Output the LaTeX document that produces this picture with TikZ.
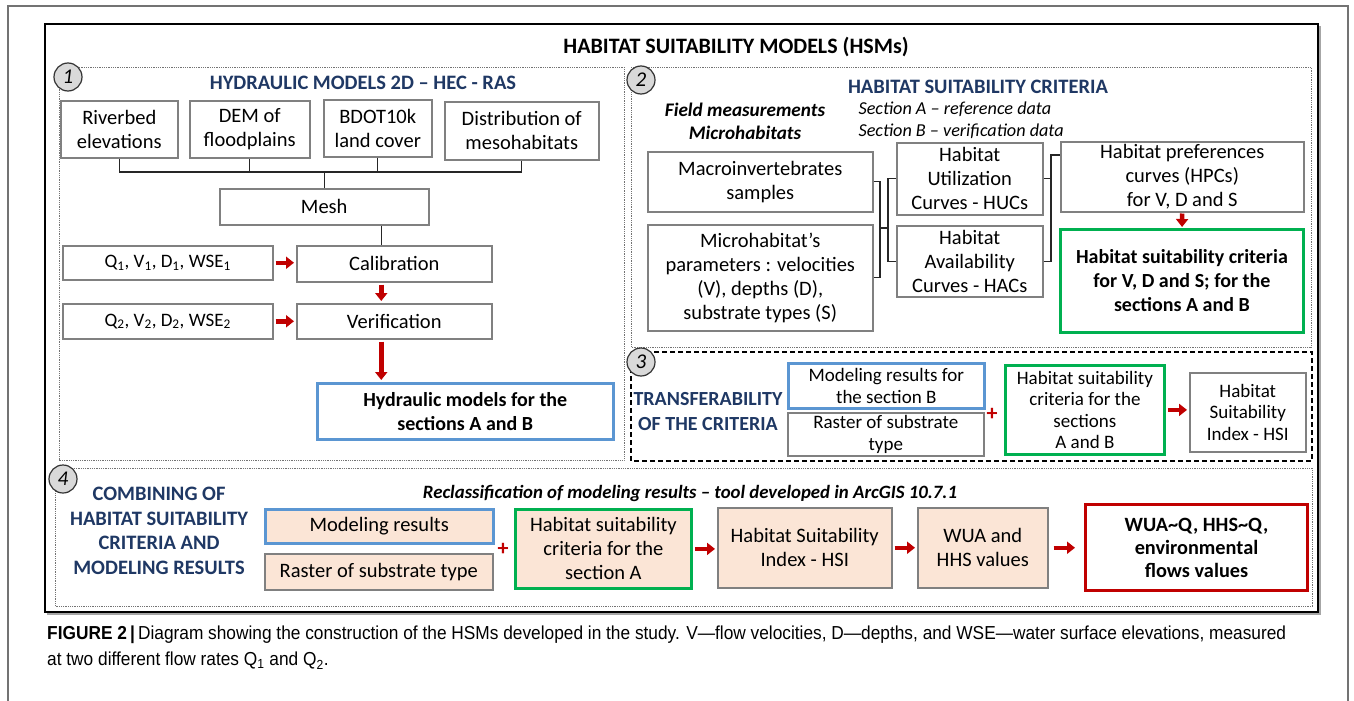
\documentclass[tikz,border=0pt]{standalone}
\usepackage{fontspec}
\setmainfont{Carlito}
\newfontfamily\capfont[FakeStretch=0.92]{Liberation Sans}
\usepackage{tikz}
\usetikzlibrary{
    positioning,
    arrows.meta
}
\definecolor{hsmNavy}{RGB}{31, 56, 100}
\definecolor{hsmRed}{RGB}{192, 0, 0}
\definecolor{hsmBlue}{RGB}{91, 150, 210}
\definecolor{hsmGreen}{RGB}{0, 176, 80}
\definecolor{hsmBeige}{RGB}{251, 229, 214}
\definecolor{boxGray}{RGB}{128, 128, 128}

\tikzset{
    box/.style={draw=boxGray, line width=1.5pt, fill=white, align=center,
        inner sep=1pt, anchor=north west, font=\fontsize{20.5}{24}\selectfont},
    smallbox/.style={box, font=\fontsize{19}{21.5}\selectfont},
    beigebox/.style={box, fill=hsmBeige},
    bluebox/.style={draw=hsmBlue, line width=2.5pt},
    greenbox/.style={draw=hsmGreen, line width=2.8pt},
    redbox/.style={draw=hsmRed, line width=3pt},
    link/.style={draw=black!85, line width=1.2pt},
    redarr/.style={draw=hsmRed, line width=4.5pt,
        -{Triangle[length=8pt, width=12pt]}, shorten <=2pt, shorten >=2pt},
    numc/.style={circle, draw=black!80, line width=1.2pt, fill=black!15,
        minimum size=28pt, inner sep=0pt, font=\fontsize{21}{21}\selectfont\itshape},
    heading/.style={text=hsmNavy, font=\fontsize{20.5}{24.5}\selectfont\bfseries, align=center},
    plusmark/.style={text=hsmRed, font=\fontsize{22}{22}\selectfont\bfseries},
    dotpanel/.style={draw=black!55, line width=0.8pt, densely dotted}
}

\begin{document}
\begin{tikzpicture}[x=1pt, y=-1pt]
    \useasboundingbox (0,0) rectangle (1354,701);
    % frames
    \draw[black!55, line width=1.3pt] (8,701) -- (8,6) -- (1348,6) -- (1348,701);
    \draw[black!35, line width=1.5pt] (47,614) -- (1320,614) -- (1320,26);
    \draw[line width=2.5pt] (45,24) rectangle (1318,612);
    \node[font=\fontsize{22}{24}\selectfont\bfseries] (title) at (736,47)
        {HABITAT SUITABILITY MODELS (HSMs)};

    % panels
    \draw[dotpanel] (59,67) rectangle (624,460);
    \draw[dotpanel] (631,67) rectangle (1311,347);
    \draw[dotpanel] (55,468) rectangle (1312,606);
    \draw[line width=1.3pt, dash pattern=on 5pt off 3pt] (631,352) rectangle (1312,461);

    \node[numc] (n1) at (68,77) {1};
    \node[numc] (n2) at (641,80) {2};
    \node[numc] (n3) at (641,362) {3};
    \node[numc] (n4) at (63,479) {4};

    % 1 - hydraulic models
    \node[heading] (h1) at (363,83) {HYDRAULIC MODELS 2D -- HEC - RAS};
    \node[box, minimum width=117pt, minimum height=57pt] (riverbed) at (60,100) {Riverbed\\elevations};
    \node[box, minimum width=120pt, minimum height=57pt] (dem) at (189,100) {DEM of\\floodplains};
    \node[box, minimum width=108pt, minimum height=57pt] (bdot) at (323,99) {BDOT10k\\land cover};
    \node[box, minimum width=154pt, minimum height=58pt] (meso) at (444,101) {Distribution of\\mesohabitats};
    \node[box, minimum width=209pt, minimum height=36pt] (mesh) at (219,188) {Mesh};
    \node[box, minimum width=210pt, minimum height=34pt, font=\fontsize{19}{24}\selectfont]
        (q1) at (62,245) {Q\textsubscript{1}, V\textsubscript{1}, D\textsubscript{1}, WSE\textsubscript{1}};
    \node[box, minimum width=195pt, minimum height=36pt] (calib) at (296,245) {Calibration};
    \node[box, minimum width=210pt, minimum height=35pt, font=\fontsize{19}{24}\selectfont]
        (q2) at (62,303) {Q\textsubscript{2}, V\textsubscript{2}, D\textsubscript{2}, WSE\textsubscript{2}};
    \node[box, minimum width=195pt, minimum height=35pt] (verif) at (296,303) {Verification};
    \node[box, bluebox, minimum width=296pt, minimum height=56pt, font=\fontsize{20}{24}\selectfont\bfseries]
        (hydro) at (316,382) {Hydraulic models for the\\sections A and B};

    \coordinate (bus) at (0,172);
    \foreach \n in {riverbed, dem, bdot, meso}
        \draw[link] (\n.south) -- (\n.south |- bus);
    \draw[link] (riverbed.south |- bus) -- (meso.south |- bus);
    \draw[link] (mesh.north) -- (mesh.north |- bus);
    \draw[link] ([xshift=-13pt]calib.north |- mesh.south) -- ([xshift=-13pt]calib.north);

    \draw[redarr] (q1) -- (q1 -| calib.west);
    \draw[redarr] (q2) -- (q2 -| verif.west);
    \draw[redarr] ([xshift=-13pt]calib.south) -- ([xshift=-13pt]verif.north);
    \draw[redarr] ([xshift=-13pt]verif.south) -- ([xshift=-13pt]verif.south |- hydro.north);

    % 2 - habitat suitability criteria
    \node[heading] (h2) at (978,87) {HABITAT SUITABILITY CRITERIA};
    \node[font=\fontsize{19.2}{23}\selectfont\bfseries\itshape, align=center] (field) at (745,121)
        {Field measurements\\Microhabitats};
    \node[font=\fontsize{18.2}{22}\selectfont\itshape, align=left, anchor=west] (sections) at (855,120)
        {Section A -- reference data\\Section B -- verification data};
    \node[box, minimum width=225pt, minimum height=60pt] (macro) at (647,151) {Macroinvertebrates\\samples};
    \node[box, minimum width=225pt, minimum height=106pt] (micro) at (647,224)
        {Microhabitat's\\parameters : velocities\\(V), depths (D),\\substrate types (S)};
    \node[box, minimum width=146pt, minimum height=72pt] (huc) at (896,142) {Habitat\\Utilization\\Curves - HUCs};
    \node[box, minimum width=146pt, minimum height=71pt] (hac) at (896,225) {Habitat\\Availability\\Curves - HACs};
    \node[box, minimum width=243pt, minimum height=70pt] (hpc) at (1060,141)
        {Habitat preferences\\curves (HPCs)\\for V, D and S};
    \node[box, greenbox, minimum width=243pt, minimum height=103pt, font=\fontsize{20}{24}\selectfont\bfseries]
        (crit) at (1059,228) {Habitat suitability criteria\\for V, D and S; for the\\sections A and B};

    \coordinate (jA) at (880,228);
    \coordinate (jB) at (888,228);
    \coordinate (jC) at (1051,155);
    \draw[link] (macro.east) -| (jA) |- (micro.east);
    \draw[link] (jA) -- (jB);
    \draw[link] (huc.west) -| (jB) |- (hac.west);
    \draw[link] (huc.east) -| (jC) -- (jC -| hpc.west);
    \draw[link] (hac.east) -| (jC);
    \draw[redarr, shorten >=1pt, shorten <=1pt] (hpc) -- (crit);

    % 3 - transferability
    \node[heading, font=\fontsize{20}{25}\selectfont\bfseries] (h3) at (708,412)
        {TRANSFERABILITY\\OF THE CRITERIA};
    \node[smallbox, bluebox, minimum width=196pt, minimum height=45pt] (modB) at (787,362)
        {Modeling results for\\the section B};
    \node[smallbox, minimum width=196pt, minimum height=43pt] (rasterB) at (787,412)
        {Raster of substrate\\type};
    \node[plusmark] (plusB) at (992,414) {+};
    \node[smallbox, greenbox, minimum width=159pt, minimum height=89pt] (critB) at (1004,364)
        {Habitat suitability\\criteria for the\\sections\\A and B};
    \node[smallbox, minimum width=116pt, minimum height=79pt] (hsiB) at (1189,372)
        {Habitat\\Suitability\\Index - HSI};
    \draw[redarr] (critB) -- (critB -| hsiB.west);

    % 4 - combining
    \node[heading] (h4) at (159,531)
        {COMBINING OF\\HABITAT SUITABILITY\\CRITERIA AND\\MODELING RESULTS};
    \node[font=\fontsize{18.8}{24}\selectfont\bfseries\itshape] (reclass) at (690,493)
        {Reclassification of modeling results -- tool developed in ArcGIS 10.7.1};
    \node[beigebox, bluebox, minimum width=228pt, minimum height=34pt] (modA) at (264,508) {Modeling results};
    \node[beigebox, minimum width=228pt, minimum height=36pt] (rasterA) at (264,553) {Raster of substrate type};
    \node[plusmark] (plusA) at (503,549) {+};
    \node[beigebox, greenbox, minimum width=176pt, minimum height=79pt] (critA) at (514,508)
        {Habitat suitability\\criteria for the\\section A};
    \node[beigebox, minimum width=174pt, minimum height=80pt] (hsiA) at (717,507)
        {Habitat Suitability\\Index - HSI};
    \node[beigebox, minimum width=130pt, minimum height=80pt] (wua) at (917,507)
        {WUA and\\HHS values};
    \node[box, redbox, minimum width=222pt, minimum height=86pt, font=\fontsize{20.3}{23}\selectfont\bfseries]
        (flows) at (1084,503) {WUA\textasciitilde Q, HHS\textasciitilde Q,\\environmental\\flows values};
    \draw[redarr] (critA) -- (critA -| hsiA.west);
    \draw[redarr] (hsiA) -- (hsiA -| wua.west);
    \draw[redarr, shorten <=5pt, shorten >=9pt] (wua) -- (wua -| flows.west);

    % caption
    \node[anchor=north west, align=left, inner sep=0pt, font=\capfont\fontsize{18.8}{26}\selectfont]
        (caption) at (47,626)
        {\textbf{FIGURE 2}\,\textbf{|}\,Diagram showing the construction of the HSMs developed in the study. V—flow velocities, D—depths, and WSE—water surface elevations, measured\\
        at two different flow rates Q\textsubscript{1} and Q\textsubscript{2}.};
\end{tikzpicture}
\end{document}
